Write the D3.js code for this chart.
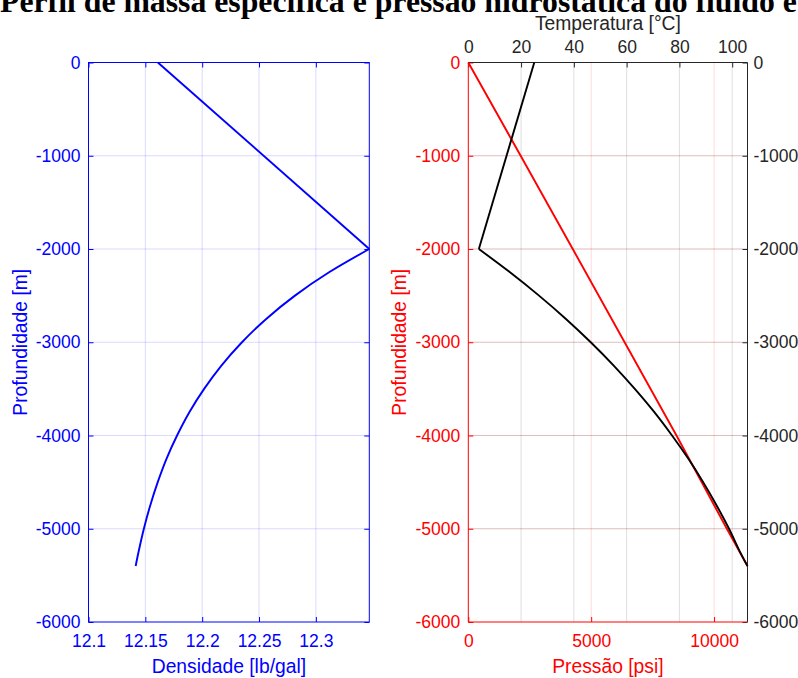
<!DOCTYPE html>
<html>
<head>
<meta charset="utf-8">
<script src="https://cdn.jsdelivr.net/npm/d3@7"></script>
<style>
  html, body { margin: 0; padding: 0; background: #fff; }
  svg { display: block; }
</style>
</head>
<body>
<svg id="chart" width="798" height="678"></svg>
<script>
// ---- data ----
const titleText = "Perfil de massa específica e pressão hidrostática do fluido e";

// density profile (lb/gal) vs depth (m)
const depthDensity = [0, -2000, -2250, -2500, -2750, -3000, -3250, -3500, -3750, -4000, -4250, -4500, -4750, -5000, -5250, -5400];
const density      = [12.161, 12.347, 12.3116, 12.2816, 12.2563, 12.235, 12.2169, 12.2017, 12.1887, 12.1779, 12.1686, 12.1609, 12.1543, 12.1487, 12.144, 12.1415];

// hydrostatic pressure (psi) vs depth (m)
const depthPressure = [0, -1000, -2000, -3000, -4000, -5000, -5400];
const pressure      = [0, 2130, 4250, 6360, 8470, 10520, 11360];

// temperature (°C) vs depth (m)
const depthTemperature = [0, -2000, -2250, -2500, -2750, -3000, -3250, -3500, -3750, -4000, -4250, -4500, -4750, -5000, -5250, -5400];
const temperature      = [25, 4, 15.8, 26.8, 37.0, 46.4, 55.1, 63.1, 70.5, 77.2, 83.4, 89.0, 94.1, 98.8, 103.0, 105.8];

// tick values
const depthTicks       = [0, -1000, -2000, -3000, -4000, -5000, -6000];
const densityTicks     = [12.1, 12.15, 12.2, 12.25, 12.3];
const pressureTicks    = [0, 5000, 10000];
const temperatureTicks = [0, 20, 40, 60, 80, 100];

// ---- layout ----
const svg = d3.select("#chart");
const FONT = "'Liberation Sans', Arial, Helvetica, sans-serif";
const TICK_FS = 17.5, LABEL_FS = 19.3, TICK_LEN = 5;
const BLUE = "#0000ff", RED = "#ff0000", DARK = "#262626", BLACK = "#000000";

const plotTop = 62.5, plotBottom = 622;
const panelL = { x0: 88.5, x1: 369.3 };
const panelR = { x0: 468.3, x1: 747.5 };

const yDepthL = d3.scaleLinear().domain([-6000, 0]).range([plotBottom, plotTop]);
const yDepthR = d3.scaleLinear().domain([-6000, 0]).range([plotBottom, plotTop]);
const xDen  = d3.scaleLinear().domain([12.1, d3.max(density)]).range([panelL.x0, panelL.x1]);
const xPres = d3.scaleLinear().domain([0, d3.max(pressure)]).range([panelR.x0, panelR.x1]);
const xTemp = d3.scaleLinear().domain([0, d3.max(temperature)]).range([panelR.x0, panelR.x1]);

const fmt = d => String(d);
const smooth = d3.curveCatmullRom.alpha(0.5);

function styleAxis(g, color, showText) {
  g.select(".domain").remove();
  g.attr("font-family", FONT).attr("font-size", TICK_FS);
  g.selectAll(".tick line").attr("stroke", color).attr("stroke-width", 1);
  g.selectAll(".tick text").attr("fill", color);
  if (!showText) g.selectAll(".tick text").remove();
}

function gridV(scale, ticks, color, opacity) {
  svg.append("g").selectAll("line")
    .data(ticks.filter(t => scale(t) > scale.range()[0] + 1 && scale(t) < scale.range()[1] - 1))
    .join("line")
    .attr("x1", d => scale(d)).attr("x2", d => scale(d))
    .attr("y1", plotTop).attr("y2", plotBottom)
    .attr("stroke", color).attr("stroke-opacity", opacity).attr("stroke-width", 1);
}
function gridH(scale, ticks, x0, x1, color, opacity) {
  svg.append("g").selectAll("line")
    .data(ticks.filter(t => t !== 0 && t !== -6000))
    .join("line")
    .attr("x1", x0).attr("x2", x1)
    .attr("y1", d => scale(d)).attr("y2", d => scale(d))
    .attr("stroke", color).attr("stroke-opacity", opacity).attr("stroke-width", 1);
}

// ---- title ----
const title = svg.append("text")
  .attr("x", 0).attr("y", 12)
  .attr("font-family", "'Liberation Serif', 'Times New Roman', serif")
  .attr("font-weight", "bold")
  .attr("font-size", 28)
  .attr("fill", "#000")
  .text(titleText);
const tl = title.node().getComputedTextLength();
title.attr("font-size", 28 * 797 / tl);

// ================= left panel: density =================
gridV(xDen, densityTicks, BLUE, 0.15);
gridH(yDepthL, depthTicks, panelL.x0, panelL.x1, BLUE, 0.15);

svg.append("g").attr("transform", `translate(${panelL.x0},0)`)
  .call(d3.axisLeft(yDepthL).tickValues(depthTicks).tickFormat(fmt).tickSizeInner(-TICK_LEN).tickSizeOuter(0).tickPadding(8))
  .call(g => styleAxis(g, BLUE, true));
svg.append("g").attr("transform", `translate(${panelL.x1},0)`)
  .call(d3.axisRight(yDepthL).tickValues(depthTicks).tickFormat(fmt).tickSizeInner(-TICK_LEN).tickSizeOuter(0))
  .call(g => styleAxis(g, BLUE, false));
svg.append("g").attr("transform", `translate(0,${plotBottom})`)
  .call(d3.axisBottom(xDen).tickValues(densityTicks).tickFormat(fmt).tickSizeInner(-TICK_LEN).tickSizeOuter(0).tickPadding(13))
  .call(g => styleAxis(g, BLUE, true));
svg.append("g").attr("transform", `translate(0,${plotTop})`)
  .call(d3.axisTop(xDen).tickValues(densityTicks).tickFormat(fmt).tickSizeInner(-TICK_LEN).tickSizeOuter(0))
  .call(g => styleAxis(g, BLUE, false));

svg.append("rect")
  .attr("x", panelL.x0).attr("y", plotTop)
  .attr("width", panelL.x1 - panelL.x0).attr("height", plotBottom - plotTop)
  .attr("fill", "none").attr("stroke", BLUE).attr("stroke-width", 1);

const denPts = depthDensity.map((d, i) => [density[i], d]);
const lineDen = d3.line().x(p => xDen(p[0])).y(p => yDepthL(p[1]));
svg.append("path").datum(denPts.slice(0, 2))
  .attr("d", lineDen).attr("fill", "none").attr("stroke", BLUE).attr("stroke-width", 1.9);
svg.append("path").datum(denPts.slice(1))
  .attr("d", lineDen.curve(smooth)).attr("fill", "none").attr("stroke", BLUE).attr("stroke-width", 1.9);

svg.append("text")
  .attr("x", (panelL.x0 + panelL.x1) / 2).attr("y", 673)
  .attr("text-anchor", "middle").attr("font-family", FONT).attr("font-size", LABEL_FS)
  .attr("fill", BLUE).text("Densidade [lb/gal]");
svg.append("text")
  .attr("transform", `translate(27,${(plotTop + plotBottom) / 2}) rotate(-90)`)
  .attr("text-anchor", "middle").attr("font-family", FONT).attr("font-size", LABEL_FS)
  .attr("fill", BLUE).text("Profundidade [m]");

// ================= right panel: pressure & temperature =================
gridV(xPres, pressureTicks, RED, 0.15);
gridH(yDepthR, depthTicks, panelR.x0, panelR.x1, RED, 0.15);
gridV(xTemp, temperatureTicks, DARK, 0.15);
gridH(yDepthR, depthTicks, panelR.x0, panelR.x1, DARK, 0.15);

// pressure axes (left / bottom)
svg.append("g").attr("transform", `translate(${panelR.x0},0)`)
  .call(d3.axisLeft(yDepthR).tickValues(depthTicks).tickFormat(fmt).tickSizeInner(-TICK_LEN).tickSizeOuter(0).tickPadding(8))
  .call(g => styleAxis(g, RED, true));
svg.append("g").attr("transform", `translate(0,${plotBottom})`)
  .call(d3.axisBottom(xPres).tickValues(pressureTicks).tickFormat(fmt).tickSizeInner(-TICK_LEN).tickSizeOuter(0).tickPadding(13))
  .call(g => styleAxis(g, RED, true));
// temperature axes (top / right)
svg.append("g").attr("transform", `translate(${panelR.x1},0)`)
  .call(d3.axisRight(yDepthR).tickValues(depthTicks).tickFormat(fmt).tickSizeInner(-TICK_LEN).tickSizeOuter(0).tickPadding(6))
  .call(g => styleAxis(g, DARK, true));
svg.append("g").attr("transform", `translate(0,${plotTop})`)
  .call(d3.axisTop(xTemp).tickValues(temperatureTicks).tickFormat(fmt).tickSizeInner(-TICK_LEN).tickSizeOuter(0).tickPadding(10))
  .call(g => styleAxis(g, DARK, true));

// frame
svg.append("line").attr("x1", panelR.x0).attr("x2", panelR.x1).attr("y1", plotTop).attr("y2", plotTop).attr("stroke", DARK);
svg.append("line").attr("x1", panelR.x1).attr("x2", panelR.x1).attr("y1", plotTop).attr("y2", plotBottom).attr("stroke", DARK);
svg.append("line").attr("x1", panelR.x0).attr("x2", panelR.x1).attr("y1", plotBottom).attr("y2", plotBottom).attr("stroke", RED);
svg.append("line").attr("x1", panelR.x0).attr("x2", panelR.x0).attr("y1", plotTop).attr("y2", plotBottom).attr("stroke", RED);

// pressure line
const presPts = depthPressure.map((d, i) => [pressure[i], d]);
svg.append("path").datum(presPts)
  .attr("d", d3.line().x(p => xPres(p[0])).y(p => yDepthR(p[1])))
  .attr("fill", "none").attr("stroke", RED).attr("stroke-width", 1.9);

// temperature line
const tempPts = depthTemperature.map((d, i) => [temperature[i], d]);
const lineTemp = d3.line().x(p => xTemp(p[0])).y(p => yDepthR(p[1]));
svg.append("path").datum(tempPts.slice(0, 2))
  .attr("d", lineTemp).attr("fill", "none").attr("stroke", BLACK).attr("stroke-width", 1.9);
svg.append("path").datum(tempPts.slice(1))
  .attr("d", lineTemp.curve(smooth)).attr("fill", "none").attr("stroke", BLACK).attr("stroke-width", 1.9);

// labels
svg.append("text")
  .attr("x", (panelR.x0 + panelR.x1) / 2).attr("y", 673)
  .attr("text-anchor", "middle").attr("font-family", FONT).attr("font-size", LABEL_FS)
  .attr("fill", RED).text("Pressão [psi]");
svg.append("text")
  .attr("x", (panelR.x0 + panelR.x1) / 2).attr("y", 29.5)
  .attr("text-anchor", "middle").attr("font-family", FONT).attr("font-size", LABEL_FS)
  .attr("fill", DARK).text("Temperatura [°C]");
svg.append("text")
  .attr("transform", `translate(${panelR.x0 - 62},${(plotTop + plotBottom) / 2}) rotate(-90)`)
  .attr("text-anchor", "middle").attr("font-family", FONT).attr("font-size", LABEL_FS)
  .attr("fill", RED).text("Profundidade [m]");
</script>
</body>
</html>
